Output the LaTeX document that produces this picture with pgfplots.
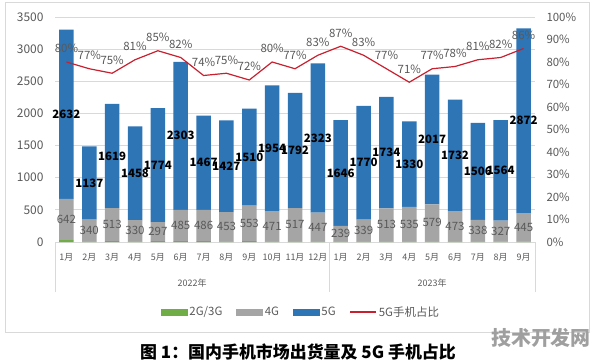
\documentclass[border=0pt]{standalone}
\usepackage{pgfplots}
\usepackage{pgfplotstable}
\pgfplotsset{compat=1.18}
\usepackage{fontspec}
\setmainfont{Noto Sans CJK SC}
\definecolor{cfive}{HTML}{2E75B6}
\definecolor{cfour}{HTML}{A5A5A5}
\definecolor{cthree}{HTML}{70AD47}
\definecolor{cline}{HTML}{C8202E}
\definecolor{txtgray}{HTML}{595959}
\definecolor{gridgray}{HTML}{D9D9D9}
\pgfplotsset{/pgf/number format/1000 sep={}}
\pgfplotstableread{
x g23 g4 g5 pct
0 28 642 2632 80
1 9 340 1137 77
2 15 513 1619 75
3 10 330 1458 81
4 12 297 1774 85
5 15 485 2303 82
6 12 486 1467 74
7 10 453 1427 75
8 12 553 1510 72
9 10 471 1954 80
10 10 517 1792 77
11 10 447 2323 83
12 10 239 1646 87
13 8 339 1770 83
14 10 513 1734 77
15 10 535 1330 71
16 8 579 2017 77
17 8 473 1732 78
18 8 338 1506 81
19 6 327 1564 82
20 6 445 2872 86
}\data
\begin{document}
\begin{tikzpicture}
\useasboundingbox (0,0) rectangle (596bp,363bp);
\draw[gridgray, line width=0.8bp] (5bp,31bp) rectangle (589bp,361bp);
\begin{axis}[
  at={(55bp,121bp)}, anchor=south west,
  scale only axis, width=480bp, height=225bp,
  xmin=-0.5, xmax=20.5, ymin=0, ymax=3500,
  ybar stacked, bar width=14.5bp,
  clip=false,
  axis line style={draw=none},
  ytick={0,500,...,3500},
  ymajorgrids, grid style={gridgray, line width=0.8bp},
  major tick length=0pt,
  xtick pos=bottom, ytick pos=left,
  xtick={0,...,20},
  xticklabels={1月,2月,3月,4月,5月,6月,7月,8月,9月,10月,11月,12月,1月,2月,3月,4月,5月,6月,7月,8月,9月},
  xticklabel style={font=\fontsize{9}{10}\selectfont, text=txtgray, yshift=-8bp},
  yticklabel style={font=\fontsize{12}{13}\selectfont, text=txtgray, xshift=-8bp},
  /pgf/number format/assume math mode=true,
  extra x ticks={-0.5,11.5,20.5},
  extra x tick labels={},
  extra x tick style={major tick length=50bp, tick align=outside, tick style={gridgray, line width=0.8bp}, grid=none},
]
\addplot[fill=cthree, draw=none] table[x=x,y=g23]{\data};
\addplot[fill=cfour, draw=none,
  point meta=\thisrow{g4},
  nodes near coords={\pgfmathprintnumber[fixed,precision=0]{\pgfplotspointmeta}},
  every node near coord/.append style={font=\fontsize{11.5}{12}\selectfont, text=txtgray, anchor=center}
  ] table[x=x,y=g4]{\data};
\addplot[fill=cfive, draw=none,
  point meta=\thisrow{g5},
  nodes near coords={\pgfmathprintnumber[fixed,precision=0]{\pgfplotspointmeta}},
  every node near coord/.append style={font=\bfseries\fontsize{11.5}{12}\selectfont, text=black, anchor=center}
  ] table[x=x,y=g5]{\data};
\node[font=\fontsize{9}{10}\selectfont, text=txtgray] at (axis cs:5.5,0) [yshift=-41bp] {2022年};
\node[font=\fontsize{9}{10}\selectfont, text=txtgray] at (axis cs:16,0) [yshift=-41bp] {2023年};
\end{axis}
\begin{axis}[
  at={(55bp,121bp)}, anchor=south west,
  scale only axis, width=480bp, height=225bp,
  xmin=-0.5, xmax=20.5, ymin=0, ymax=100,
  clip=false,
  axis y line*=right, hide x axis,
  axis line style={draw=none},
  major tick length=0pt,
  ytick={0,10,...,100},
  yticklabel={\pgfmathprintnumber{\tick}\%},
  yticklabel style={font=\fontsize{11.5}{12}\selectfont, text=txtgray, xshift=8bp},
  /pgf/number format/assume math mode=true,
  legend style={at={(0.5125,-0.311)}, anchor=center, draw=none, fill=none,
    font=\fontsize{11.5}{12}\selectfont, text=txtgray,
    /tikz/every even column/.append style={column sep=12bp}},
  legend columns=4,
]
\addlegendimage{legend image code/.code={\fill[cthree] (0bp,-3bp) rectangle (26bp,3bp);}}
\addlegendentry{2G/3G}
\addlegendimage{legend image code/.code={\fill[cfour] (0bp,-3bp) rectangle (26bp,3bp);}}
\addlegendentry{4G}
\addlegendimage{legend image code/.code={\fill[cfive] (0bp,-3bp) rectangle (26bp,3bp);}}
\addlegendentry{5G}
\addplot[cline, line width=1.2bp, mark=none,
  legend image code/.code={\draw[cline, line width=1.2bp] (0bp,0bp) -- (26bp,0bp);},
  nodes near coords={\pgfmathprintnumber[fixed,precision=0]{\pgfplotspointmeta}\%},
  every node near coord/.append style={font=\fontsize{11.5}{12}\selectfont, text=txtgray, anchor=south, yshift=5bp}
  ] table[x=x,y=pct]{\data};
\addlegendentry{5G手机占比}
\end{axis}
\node[font=\bfseries\fontsize{17}{19}\selectfont] at (298bp,11bp) {图 1：国内手机市场出货量及 5G 手机占比};
\node[font=\bfseries\fontsize{20}{22}\selectfont, text=gray!75] at (541bp,25bp) {技术开发网};
\end{tikzpicture}
\end{document}
